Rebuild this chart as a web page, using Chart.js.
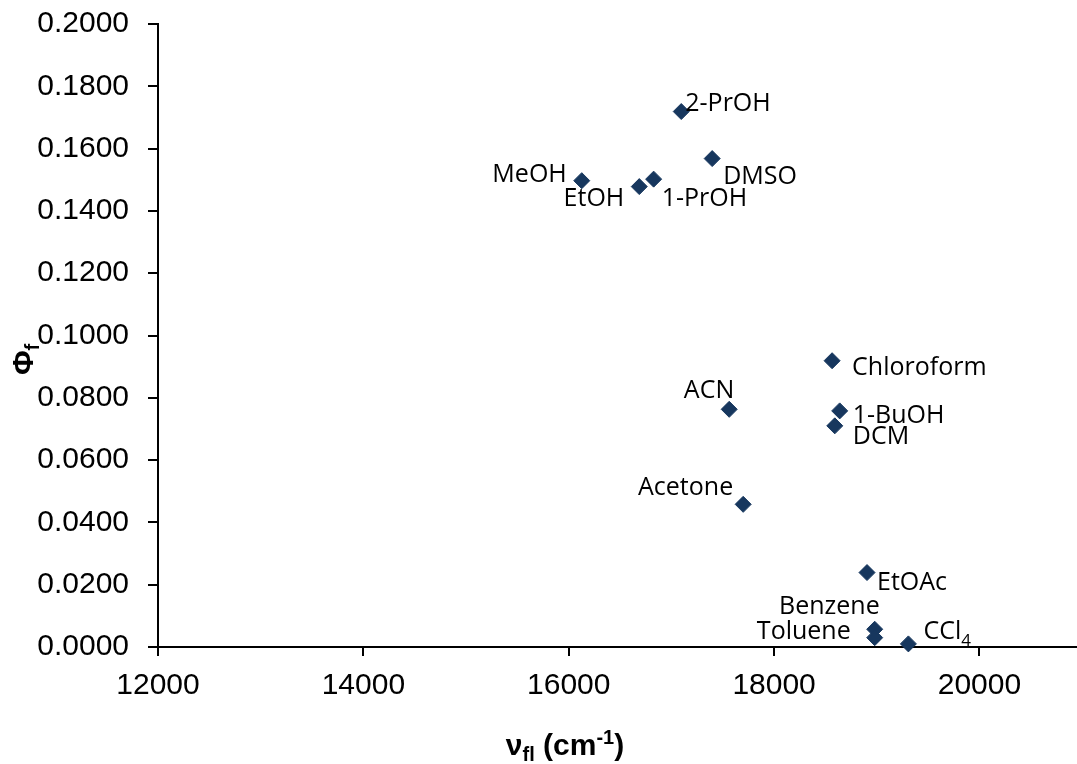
<!DOCTYPE html>
<html>
<head>
<meta charset="utf-8">
<script src="https://cdn.jsdelivr.net/npm/chart.js@4.4.0/dist/chart.umd.min.js"></script>
<style>
  html, body { margin: 0; padding: 0; background: #fff; overflow: hidden; }
  #wrap { width: 1077px; height: 764px; }
</style>
</head>
<body>
<div id="wrap"><canvas id="chart" width="1077" height="764"></canvas></div>
<script>
// solvent names and read-off values
const solvents = ['2-PrOH', 'DMSO', 'MeOH', 'EtOH', '1-PrOH', 'Chloroform', 'ACN', '1-BuOH', 'DCM', 'Acetone', 'EtOAc', 'Benzene', 'Toluene', 'CCl4'];
const nuFl = [17096, 17397, 16127, 16687, 16827, 18565, 17563, 18639, 18591, 17699, 18905, 18980, 18980, 19308];
const phiF = [0.1719, 0.1568, 0.1497, 0.1478, 0.1502, 0.0919, 0.0763, 0.0758, 0.0710, 0.0458, 0.0239, 0.0057, 0.0030, 0.0010];

const xTicks = [12000, 14000, 16000, 18000, 20000];

// label placement relative to each marker: dx, dy, align
const labelPos = {
    '2-PrOH':     [4, -8, 'left'],
    'DMSO':       [11, 18, 'left'],
    'MeOH':       [-15, -6, 'right'],
    'EtOH':       [-15, 12, 'right'],
    '1-PrOH':     [8, 20, 'left'],
    'Chloroform': [20, 7, 'left'],
    'ACN':        [5, -18, 'right'],
    '1-BuOH':     [13, 5, 'left'],
    'DCM':        [18, 11, 'left'],
    'Acetone':    [-10, -16, 'right'],
    'EtOAc':      [10, 10, 'left'],
    'Benzene':    [5, -22, 'right'],
    'Toluene':    [-24, -6, 'right'],
    'CCl4':       [15, -12, 'left']
};

const pointLabels = {
    id: 'pointLabels',
    afterDatasetsDraw(chart) {
        const ctx = chart.ctx;
        const meta = chart.getDatasetMeta(0);
        ctx.save();
        ctx.fillStyle = '#000';
        ctx.font = '25px "Open Sans"';
        ctx.textBaseline = 'middle';
        meta.data.forEach((pt, i) => {
            const name = solvents[i];
            const [dx, dy, align] = labelPos[name];
            const x = pt.x + dx, y = pt.y + dy;
            if (name === 'CCl4') {
                ctx.textAlign = 'left';
                ctx.fillText('CCl', x, y);
                const w = ctx.measureText('CCl').width;
                ctx.font = '17px "Open Sans"';
                ctx.fillText('4', x + w, y + 9);
                ctx.font = '25px "Open Sans"';
            } else {
                ctx.textAlign = align;
                ctx.fillText(name, x, y);
            }
        });
        ctx.restore();
    }
};

const axisTitles = {
    id: 'axisTitles',
    afterDraw(chart) {
        const ctx = chart.ctx;
        ctx.save();
        ctx.fillStyle = '#000';
        ctx.textBaseline = 'alphabetic';
        ctx.textAlign = 'left';

        // x title: nu_fl (cm^-1)
        const big = 'bold 30px "Liberation Sans", Arial';
        const small = 'bold 20px "Liberation Sans", Arial';
        const parts = [['ν', big, 0], ['fl', small, 6], [' (cm', big, 0], ['-1', small, -11], [')', big, 0]];
        let total = 0;
        parts.forEach(p => { ctx.font = p[1]; total += ctx.measureText(p[0]).width; });
        let x = 565 - total / 2;
        const base = 755;
        parts.forEach(p => {
            ctx.font = p[1];
            ctx.fillText(p[0], x, base + p[2]);
            x += ctx.measureText(p[0]).width;
        });

        // y title: Phi_f, rotated
        ctx.translate(33, 364);
        ctx.rotate(-Math.PI / 2);
        ctx.font = 'bold 30px "Liberation Sans", Arial';
        ctx.fillText('Φ', -11, 0);
        const w = ctx.measureText('Φ').width;
        ctx.font = 'bold 20px "Liberation Sans", Arial';
        ctx.fillText('f', -11 + w, 6);
        ctx.restore();
    }
};

const ctx = document.getElementById('chart').getContext('2d');
new Chart(ctx, {
    type: 'scatter',
    data: {
        datasets: [{
            data: nuFl.map((v, i) => ({ x: v, y: phiF[i] })),
            pointStyle: 'rectRot',
            pointRadius: 8,
            pointHoverRadius: 8,
            backgroundColor: '#17375E',
            borderColor: '#17375E',
            borderWidth: 1,
            clip: false
        }]
    },
    options: {
        responsive: false,
        animation: false,
        layout: { autoPadding: false, padding: { top: 24, left: 0, right: 0, bottom: 0 } },
        plugins: {
            legend: { display: false },
            tooltip: { enabled: false }
        },
        scales: {
            x: {
                type: 'linear',
                min: 12000,
                max: 20950,
                afterBuildTicks: (axis) => { axis.ticks = xTicks.map(v => ({ value: v })); },
                afterFit: (axis) => { axis.height = 117; axis.paddingRight = 0; axis.paddingLeft = 0; },
                grid: { drawOnChartArea: false, drawTicks: true, tickLength: 9, color: '#000', lineWidth: 2 },
                border: { color: '#000', width: 2 },
                ticks: {
                    color: '#000',
                    padding: 12,
                    maxRotation: 0,
                    font: { family: '"Liberation Sans", Arial', size: 30 },
                    callback: (v) => String(v)
                }
            },
            y: {
                min: 0,
                max: 0.2,
                afterFit: (axis) => { axis.width = 158; axis.paddingTop = 0; axis.paddingBottom = 0; },
                grid: { drawOnChartArea: false, drawTicks: true, tickLength: 10, color: '#000', lineWidth: 2 },
                border: { color: '#000', width: 2 },
                ticks: {
                    stepSize: 0.02,
                    color: '#000',
                    padding: 19,
                    font: { family: '"Liberation Sans", Arial', size: 30 },
                    callback: (v) => v.toFixed(4)
                }
            }
        }
    },
    plugins: [pointLabels, axisTitles]
});
</script>
</body>
</html>
